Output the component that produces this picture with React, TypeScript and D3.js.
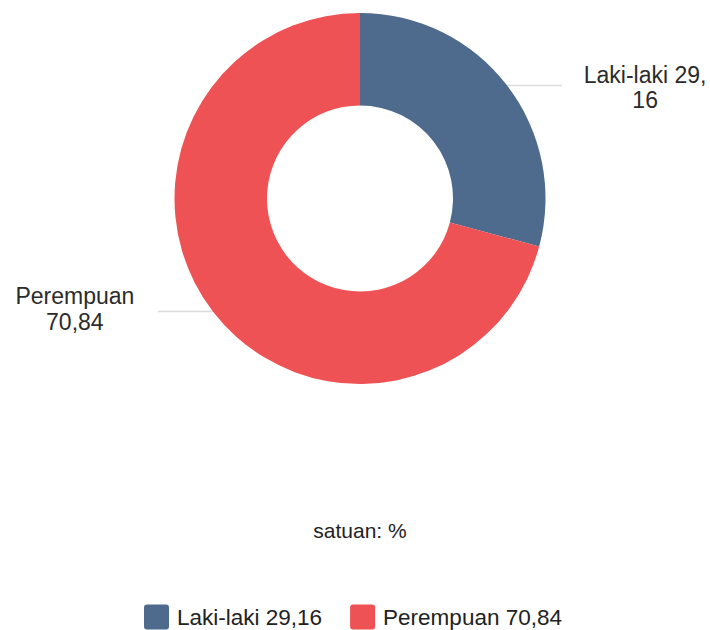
import React, { useEffect, useRef } from 'react';
import * as d3 from 'd3';

const categories = ['Laki-laki', 'Perempuan'];
const values = [29.16, 70.84];
const colors = ['#4e6a8d', '#ef5254'];
const unitLabel = 'satuan: %';

const fmt = (v: number) => v.toFixed(2).replace('.', ',');

export default function App() {
  const svgRef = useRef<SVGSVGElement>(null);

  useEffect(() => {
    if (!svgRef.current) return;
    const width = 710;
    const height = 630;
    const cx = 360;
    const cy = 198.5;
    const outerR = 185.5;
    const innerR = 93;
    const font = '"Liberation Sans", Arial, Helvetica, sans-serif';

    const svg = d3.select(svgRef.current);
    svg.selectAll('*').remove();
    svg.attr('width', width).attr('height', height);

    const data = categories.map((c, i) => ({ name: c, value: values[i], color: colors[i] }));

    const pie = d3.pie<typeof data[0]>().value(d => d.value).sort(null);
    const arcs = pie(data);
    const arc = d3.arc<d3.PieArcDatum<typeof data[0]>>().innerRadius(innerR).outerRadius(outerR);

    const g = svg.append('g').attr('transform', `translate(${cx},${cy})`);

    // Leader lines + labels (lines sit under the slices)
    const lines = g.append('g');
    arcs.forEach(a => {
      const mid = (a.startAngle + a.endAngle) / 2;
      const x0 = Math.sin(mid) * outerR;
      const y0 = -Math.cos(mid) * outerR;
      const dir = x0 >= 0 ? 1 : -1;
      lines.append('line')
        .attr('x1', x0).attr('y1', y0)
        .attr('x2', x0 + dir * 55).attr('y2', y0)
        .attr('stroke', '#dcdcdc')
        .attr('stroke-width', 1.5);

      const label = `${a.data.name} ${fmt(a.data.value)}`;
      const lx = x0 + dir * 138;
      const text = g.append('text')
        .attr('text-anchor', 'middle')
        .attr('font-family', font)
        .attr('font-size', 23)
        .attr('fill', '#2b2b2b');
      const linesText = dir > 0
        ? [label.slice(0, label.indexOf(',') + 1), label.slice(label.indexOf(',') + 1)]
        : [a.data.name, fmt(a.data.value)];
      const startY = y0 - (dir > 0 ? 3 : 7);
      linesText.forEach((t, i) => {
        text.append('tspan').attr('x', lx).attr('y', startY + i * 25.5).text(t);
      });
    });

    g.selectAll('path.slice')
      .data(arcs)
      .join('path')
      .attr('class', 'slice')
      .attr('d', arc)
      .attr('fill', d => d.data.color);

    svg.append('text')
      .attr('x', cx).attr('y', 538)
      .attr('text-anchor', 'middle')
      .attr('font-family', font)
      .attr('font-size', 21)
      .attr('fill', '#222')
      .text(unitLabel);

    // Legend
    const legend = svg.append('g');
    const items = data.map(d => `${d.name} ${fmt(d.value)}`);
    const box = 25;
    const gap = 8;
    const itemGap = 28;
    const legendFont = 22.5;
    const tmp = legend.append('text').attr('font-family', font).attr('font-size', legendFont);
    const widths = items.map(t => {
      tmp.text(t);
      return (tmp.node() as SVGTextElement).getComputedTextLength();
    });
    tmp.remove();
    const total = widths.reduce((s, w) => s + box + gap + w, 0) + itemGap * (items.length - 1);
    let x = cx - 7 - total / 2;
    items.forEach((t, i) => {
      legend.append('rect')
        .attr('x', x).attr('y', 604.5)
        .attr('width', box).attr('height', box)
        .attr('rx', 3)
        .attr('fill', data[i].color);
      legend.append('text')
        .attr('x', x + box + gap).attr('y', 625)
        .attr('font-family', font)
        .attr('font-size', legendFont)
        .attr('fill', '#222')
        .text(t);
      x += box + gap + widths[i] + itemGap;
    });
  }, []);

  return (
    <div style={{ position: 'fixed', left: 0, top: 0, width: 710, height: 630, overflow: 'hidden', background: '#fff' }}>
      <svg ref={svgRef} style={{ display: 'block' }} />
    </div>
  );
}
